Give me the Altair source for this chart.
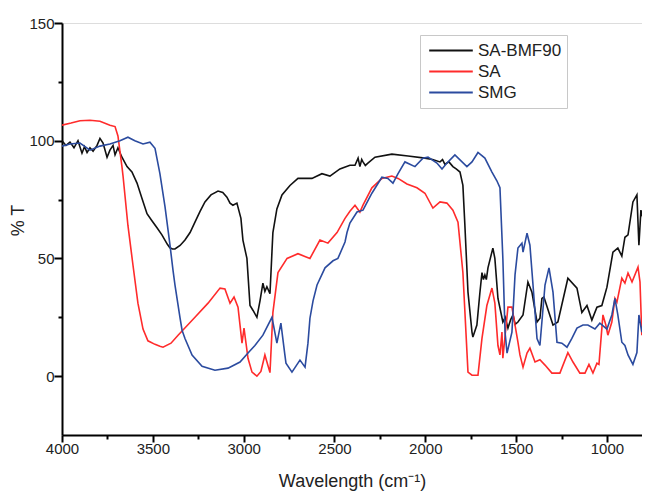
import altair as alt
import pandas as pd

# (wavenumber cm^-1, %T)
SA_BMF90 = [
    (4000, 100), (3978, 98), (3956, 99.4), (3934, 97), (3912, 100), (3890, 94.7), (3876, 97.5),
    (3862, 95), (3846, 97), (3829, 95.5), (3807, 98), (3791, 101), (3774, 99), (3752, 93),
    (3736, 96), (3719, 98), (3708, 94), (3692, 97), (3670, 93), (3642, 89), (3615, 86.7),
    (3587, 82), (3560, 75.6), (3532, 69), (3505, 66), (3477, 63), (3450, 60), (3420, 56),
    (3406, 54.5), (3392, 54), (3378, 54), (3350, 55.5), (3323, 57.8), (3295, 61), (3268, 65.4),
    (3240, 70), (3213, 74), (3180, 77), (3141, 78.6), (3115, 78), (3092, 76), (3075, 73.5),
    (3059, 72.6), (3037, 73.5), (3015, 67), (3004, 57.8), (2982, 50), (2965, 30), (2949, 28),
    (2927, 25), (2910, 32), (2894, 39.5), (2883, 36), (2872, 38), (2855, 35), (2844, 53),
    (2839, 61), (2817, 71), (2789, 77), (2745, 81), (2701, 84), (2660, 84), (2624, 84),
    (2569, 86), (2525, 85), (2470, 88), (2415, 89.6), (2387, 89.6), (2370, 92.6), (2360, 89),
    (2350, 92), (2343, 91), (2330, 89.5), (2316, 90.5), (2277, 93), (2184, 94.3), (2095, 93.5),
    (2002, 92.6), (1960, 92), (1919, 91), (1905, 92), (1892, 90), (1870, 91), (1848, 89),
    (1830, 88), (1809, 86.7), (1793, 81), (1782, 64), (1765, 35.7), (1743, 18.7), (1738, 16.6),
    (1716, 21.7), (1700, 35), (1688, 44), (1680, 41), (1672, 43), (1664, 41), (1655, 46),
    (1628, 54.4), (1617, 50), (1600, 33), (1573, 23), (1560, 25), (1545, 20.4), (1530, 24),
    (1517, 26), (1505, 22), (1490, 23), (1462, 26), (1435, 40), (1413, 35.7), (1385, 23),
    (1369, 24.6), (1358, 33), (1347, 33.6), (1297, 21.7), (1270, 23), (1215, 41.6), (1165, 37.4),
    (1138, 27), (1110, 30), (1083, 23.8), (1055, 29.3), (1028, 30), (1000, 37.8), (967, 52.7),
    (940, 54.4), (918, 51), (901, 59), (884, 60), (857, 74), (835, 77), (824, 55.6),
    (813, 70.5), (791, 64), (775, 65.4), (764, 52.7),
]

SA = [
    (4000, 106.6), (3950, 107.5), (3901, 108.5), (3846, 108.7), (3791, 108.3), (3736, 106.6),
    (3708, 106), (3692, 102), (3670, 89), (3664, 85), (3637, 64), (3609, 47), (3582, 31),
    (3554, 20), (3527, 15), (3488, 13.5), (3461, 12.7), (3444, 12.3), (3400, 14), (3361, 17.4),
    (3268, 25), (3196, 31), (3130, 37.4), (3103, 37), (3075, 31), (3053, 33.6), (3031, 29.3),
    (3009, 14), (2998, 20.4), (2976, 7.6), (2954, 1.7), (2927, 0), (2905, 2), (2883, 9),
    (2855, 1.5), (2839, 27), (2811, 44), (2761, 50), (2701, 52), (2635, 50), (2580, 57.8),
    (2536, 56.5), (2486, 61), (2442, 67), (2415, 70), (2387, 72.6), (2360, 69.7), (2343, 72.6),
    (2294, 80), (2239, 84), (2184, 85), (2150, 84), (2101, 81.6), (2046, 80), (2002, 77.7),
    (1958, 71.4), (1919, 74), (1881, 73.5), (1848, 70.5), (1820, 65.4), (1793, 44), (1765, 1.7),
    (1743, 0.4), (1710, 0.4), (1688, 16), (1661, 30), (1633, 37.4), (1617, 31), (1600, 13),
    (1589, 9), (1578, 18.7), (1573, 7.6), (1545, 29.3), (1523, 29.3), (1506, 21.7), (1490, 14.4),
    (1479, 9), (1462, 3.8), (1440, 9.8), (1424, 11.9), (1396, 6), (1369, 7), (1341, 4.7),
    (1303, 1.3), (1259, 1.3), (1215, 10), (1187, 6), (1149, 1.3), (1121, 1.3), (1099, 5),
    (1077, 1.3), (1055, 5.5), (1044, 5), (1022, 26), (1006, 21.7), (995, 17.4), (973, 23),
    (956, 33), (945, 31.4), (918, 41.6), (901, 39.5), (884, 43.8), (862, 40), (829, 46.3),
    (818, 40), (808, 17.4), (786, 21.7), (764, 14.4),
]

SMG = [
    (4000, 97.7), (3956, 98.6), (3901, 99), (3846, 96), (3791, 97.7), (3736, 98.6), (3681, 100),
    (3637, 101.5), (3599, 100), (3554, 98.6), (3516, 99.4), (3488, 96.8), (3461, 86), (3433, 72),
    (3406, 56), (3389, 45), (3378, 38.7), (3350, 24.6), (3339, 19.5), (3323, 16), (3284, 9),
    (3229, 4.2), (3158, 2.5), (3086, 3.4), (3020, 6), (2976, 9.8), (2938, 13), (2894, 17.4),
    (2844, 25), (2817, 14), (2795, 22.5), (2773, 9), (2767, 5.5), (2734, 1.7), (2690, 6.8),
    (2662, 3.8), (2646, 14), (2635, 24.6), (2618, 32), (2596, 38.7), (2552, 46), (2508, 49),
    (2481, 50), (2442, 57), (2431, 61), (2415, 65), (2376, 69.7), (2343, 70.5), (2294, 77.7),
    (2239, 84.5), (2206, 84), (2178, 82), (2150, 86), (2112, 91), (2057, 89), (2013, 92.6),
    (1985, 93), (1936, 90.5), (1908, 88), (1881, 90.5), (1837, 94), (1771, 89), (1743, 91),
    (1710, 95), (1672, 92.6), (1633, 86.7), (1606, 83), (1589, 80), (1573, 50), (1561, 18.7),
    (1550, 9.8), (1523, 18.7), (1506, 43), (1490, 54.4), (1468, 56.5), (1462, 52.7),
    (1440, 60.7), (1424, 55.6), (1407, 38.7), (1385, 16), (1369, 13), (1341, 38.7), (1319, 46),
    (1297, 35.7), (1275, 14.4), (1248, 14), (1220, 12.3), (1193, 16), (1165, 20.4),
    (1132, 21.7), (1105, 21.7), (1066, 20), (1039, 22.5), (1000, 20), (973, 26), (956, 33),
    (940, 26), (918, 14.4), (901, 13), (884, 9), (857, 5), (835, 10), (824, 26), (808, 18.7),
    (791, 27), (775, 47), (764, 49),
]

SERIES = ["SA-BMF90", "SA", "SMG"]
COLORS = ["#111111", "#ff2b2b", "#2b4b9f"]
X_TICKS = [4000, 3750, 3500, 3250, 3000, 2750, 2500, 2250, 2000, 1750, 1500, 1250, 1000]
Y_TICKS = [0, 25, 50, 75, 100, 125, 150]

rows = []
for name, pts in zip(SERIES, [SA_BMF90, SA, SMG]):
    for w, t in pts:
        rows.append({"wn": w, "T": t, "sample": name})
df = pd.DataFrame(rows)

FONT = "Liberation Sans"

chart = (
    alt.Chart(df)
    .mark_line(strokeWidth=1.6, clip=True, interpolate="linear")
    .encode(
        x=alt.X(
            "wn:Q",
            scale=alt.Scale(domain=[807, 4000], reverse=True, nice=False, zero=False),
            axis=alt.Axis(
                title="Wavelength (cm⁻¹)",
                values=X_TICKS,
                labelExpr="datum.value % 500 === 0 ? datum.label : ''",
                format="d",
                grid=False,
                labelFlush=False,
                tickSize={"condition": {"test": "datum.value % 500 === 0", "value": 7}, "value": 4},
                tickWidth=2,
                tickColor="#000",
                domainWidth=2,
                domainColor="#000",
                labelFont=FONT,
                labelFontSize=15,
                labelColor="#222",
                labelPadding=-1,
                titleFont=FONT,
                titleFontSize=18,
                titleFontWeight="normal",
                titleColor="#222",
                titlePadding=16,
            ),
        ),
        y=alt.Y(
            "T:Q",
            scale=alt.Scale(domain=[-25, 150], nice=False, zero=False),
            axis=alt.Axis(
                title="% T",
                values=Y_TICKS,
                labelExpr="datum.value % 50 === 0 ? datum.label : ''",
                grid=False,
                labelFlush=False,
                tickSize={"condition": {"test": "datum.value % 50 === 0", "value": 8}, "value": 4},
                tickWidth=2,
                tickColor="#000",
                domainWidth=2,
                domainColor="#000",
                labelFont=FONT,
                labelFontSize=15,
                labelColor="#222",
                labelPadding=0,
                titleFont=FONT,
                titleFontSize=18,
                titleFontWeight="normal",
                titleColor="#222",
                titleX=-35,
                titleY=197,
            ),
        ),
        color=alt.Color(
            "sample:N",
            scale=alt.Scale(domain=SERIES, range=COLORS),
            legend=alt.Legend(
                title=None,
                orient="none",
                legendX=358,
                legendY=12,
                symbolType="stroke",
                symbolSize=1900,
                symbolStrokeWidth=2,
                symbolOffset=3,
                clipHeight=21,
                labelFont=FONT,
                labelFontSize=17,
                labelColor="#222",
                labelOffset=4,
                strokeColor="#c8c8c8",
                fillColor="#ffffff",
                padding=5,
                rowPadding=0,
            ),
        ),
        order=alt.Order("wn:Q", sort="descending"),
    )
    .properties(
        width=580,
        height=412,
        padding={"left": 54, "top": 15, "right": 0, "bottom": 56},
        autosize=alt.AutoSizeParams(type="none"),
    )
    .configure_view(stroke=None)
    .configure(background="#ffffff")
)

chart.save("out.html", embed_options={"renderer": "svg", "actions": False})
